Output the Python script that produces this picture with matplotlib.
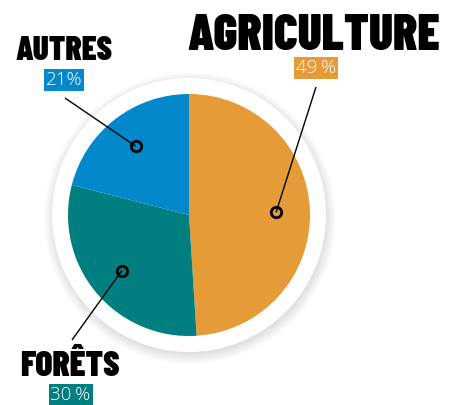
import numpy as np
import matplotlib
matplotlib.use("Agg")
import matplotlib.pyplot as plt
from matplotlib.patches import Circle

# Land use shares
categories = ["AGRICULTURE", "FORÊTS", "AUTRES"]
values = [49, 30, 21]
pct_labels = ["49\u2009%", "30\u2009%", "21%"]
colors = ["#E49B38", "#017E80", "#0388CB"]

W, H = 450, 405
fig = plt.figure(figsize=(W / 100, H / 100), dpi=100)
ax = fig.add_axes([0, 0, 1, 1])

cx, cy = 189, 405 - 215
R = 121
R_ring = 137

# soft shadow under the white disc
for i in range(16):
    r = R_ring + 9 - i * 0.7
    ax.add_patch(Circle((cx + 1, cy - 3), r, fc="#000000", ec="none",
                        alpha=0.009, zorder=1))
ax.add_patch(Circle((cx, cy), R_ring, fc="white", ec="none", zorder=2))

wedges, _ = ax.pie(values, colors=colors, startangle=90, counterclock=False,
                   center=(cx, cy), radius=R, frame=True,
                   wedgeprops=dict(linewidth=0))
for w in wedges:
    w.set_zorder(3)

ax.set_xlim(0, W)
ax.set_ylim(0, H)
ax.set_aspect("equal")
ax.axis("off")

# leader dots at each slice's mid-angle
fracs = np.array(values) / sum(values)
ends = 90 - 360 * np.cumsum(fracs)
starts = ends + 360 * fracs
mids = np.radians((starts + ends) / 2)
dots = [(cx + 0.72 * R * np.cos(a), cy + 0.72 * R * np.sin(a)) for a in mids]

# label anchors (name, percentage box, leader end)
name_pos = [(314, 355, 36), (70, 29, 25.5), (64.5, 345, 24)]
pct_pos = [(316, 337), (70.5, 10), (64, 325)]
line_end = [(316, 405 - 87), (72, 405 - 340), (65, 405 - 98)]

for (dx, dy), (lx, ly) in zip(dots, line_end):
    ax.plot([dx, lx], [dy, ly], color="black", lw=1.0, zorder=4,
            solid_capstyle="butt")
    ax.plot([dx], [dy], marker="o", ms=7.5, mfc="none", mec="black",
            mew=2.0, zorder=5)

for name, (nx, ny, fs) in zip(categories, name_pos):
    ax.text(nx, ny, name, ha="center", va="baseline", fontsize=fs,
            family=["Barlow Condensed", "Anton", "DejaVu Sans"],
            weight=900, color="black", zorder=6)

for lab, (px, py), col in zip(pct_labels, pct_pos, colors):
    ax.text(px, py, lab, ha="center", va="center", fontsize=13.5,
            family=["Open Sans", "DejaVu Sans"], weight=300,
            color="white", zorder=6,
            bbox=dict(boxstyle="square,pad=0.1", fc=col, ec="none"))

fig.savefig("out.png", dpi=100, facecolor="white")
